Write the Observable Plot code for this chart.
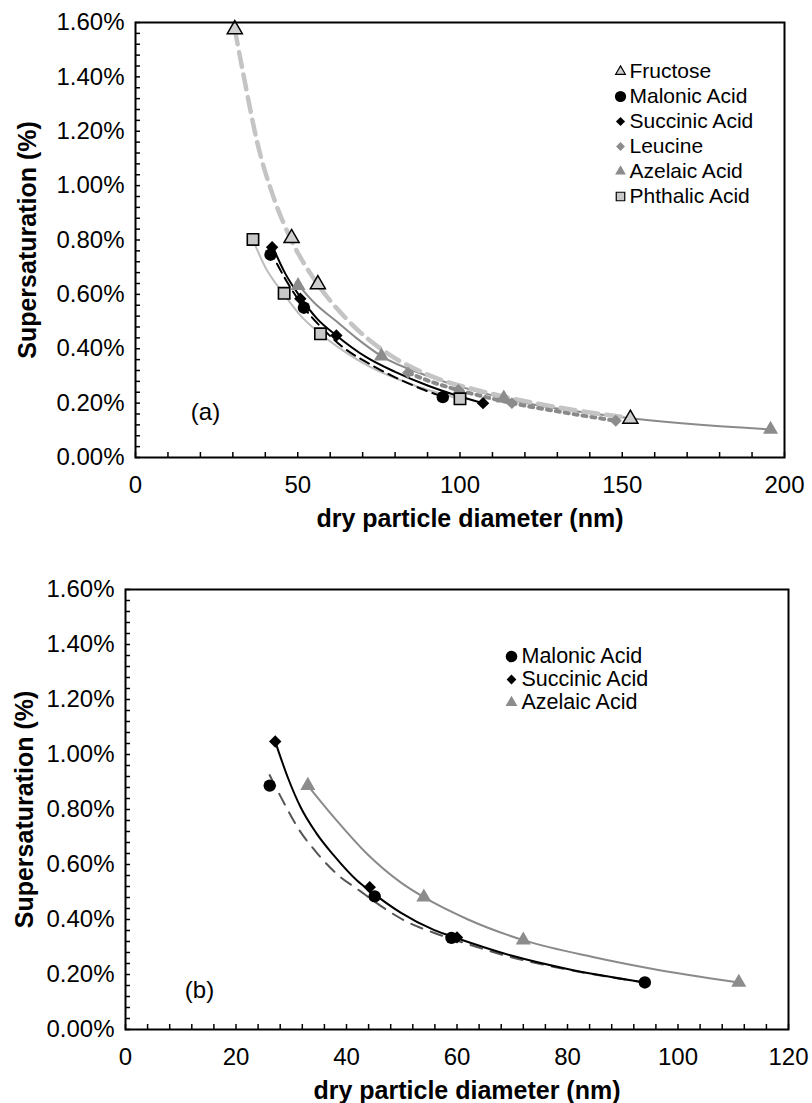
<!DOCTYPE html>
<html><head><meta charset="utf-8">
<script src="https://cdn.jsdelivr.net/npm/d3@7"></script>
<script src="https://cdn.jsdelivr.net/npm/@observablehq/plot@0.6"></script>
<style>
body{margin:0;background:#fff;font-family:"Liberation Sans",Arial,sans-serif;}
#charts svg{display:block;overflow:visible;}
</style></head><body><div id="charts"></div>
<script>
// ---------- Panel (a): measured points [dry diameter (nm), supersaturation (%)]
const fructoseA = [[30.6,1.575],[48.1,0.807],[56.2,0.637],[152.5,0.142]];
const malonicA  = [[41.6,0.746],[51.9,0.551],[94.7,0.222]];
const succinicA = [[42.1,0.773],[50.8,0.584],[61.9,0.449],[107.1,0.200]];
const leucineA  = [[84,0.312],[99.5,0.248],[116,0.200],[148,0.135]];
const azelaicA  = [[50.1,0.632],[75.8,0.373],[113.5,0.218],[195.7,0.103]];
const phthalicA = [[36.2,0.802],[45.8,0.604],[57.0,0.455],[100.0,0.216]];

// Panel (a): fitted curves
const fructoseFitA = [[30.6,1.575],[33.4,1.40],[37.5,1.16],[42.6,0.955],[48,0.80],[56,0.64],[65,0.51],[78,0.38],[90,0.305],[108,0.24],[130,0.185],[152.5,0.145]];
const malonicFitA  = [[41.3,0.765],[47,0.64],[52,0.55],[58,0.47],[64,0.405],[72,0.345],[80,0.295],[88,0.253],[95,0.222]];
const succinicFitA = [[42.1,0.78],[46,0.68],[50.8,0.59],[56,0.51],[61.9,0.449],[71,0.37],[80,0.315],[90,0.265],[98,0.232],[107.1,0.200]];
const leucineFitA  = [[84,0.312],[92,0.275],[99.5,0.248],[108,0.222],[116,0.200],[130,0.17],[148,0.135]];
const azelaicFitA  = [[49.5,0.645],[55,0.57],[62,0.50],[68,0.44],[75.8,0.373],[90,0.30],[113.5,0.218],[150,0.148],[196,0.103]];
const phthalicFitA = [[36.2,0.80],[40,0.70],[45.8,0.60],[51,0.52],[57,0.455],[65,0.385],[72,0.335],[86,0.265],[100,0.216]];

// ---------- Panel (b)
const malonicB  = [[26.1,0.887],[45.1,0.484],[59.0,0.333],[94.0,0.171]];
const succinicB = [[27.1,1.047],[44.2,0.517],[60.0,0.335]];
const azelaicB  = [[33.0,0.887],[54.0,0.481],[72.0,0.325],[111.0,0.171]];

const malonicFitB  = [[26.1,0.925],[29,0.812],[31.4,0.727],[34.4,0.648],[38,0.57],[42.5,0.503],[47.2,0.436],[51.1,0.39],[55.8,0.352],[62,0.31],[70,0.262],[80,0.218],[94,0.171]];
const succinicFitB = [[27.1,1.047],[29.5,0.91],[31.7,0.808],[34.5,0.715],[37.7,0.633],[41.9,0.542],[44.2,0.505],[49.8,0.425],[55.8,0.362],[60,0.332],[70,0.268],[80,0.22],[94,0.171]];
const azelaicFitB  = [[33,0.887],[37.7,0.772],[43.7,0.639],[49.8,0.535],[54,0.481],[62,0.40],[72,0.325],[85,0.262],[95,0.222],[111,0.171]];

// ---------- Legends & ticks
const legendA = ["Fructose","Malonic Acid","Succinic Acid","Leucine","Azelaic Acid","Phthalic Acid"];
const legendB = ["Malonic Acid","Succinic Acid","Azelaic Acid"];
const yTicks  = [0,0.2,0.4,0.6,0.8,1.0,1.2,1.4,1.6];
const xTicksA = [0,50,100,150,200];
const xTicksB = [0,20,40,60,80,100,120];
const yTitle = "Supersaturation (%)";
const xTitle = "dry particle diameter (nm)";

// ---------- Styles (kept apart from data)
const sym = {
  "Fructose":      {symbol:"triangle", r:5.6, fill:"#cfcfcf", stroke:"#000", strokeWidth:1.5},
  "Malonic Acid":  {symbol:"circle",   r:6.2, fill:"#000"},
  "Succinic Acid": {symbol:"diamond2", r:5.6, fill:"#000"},
  "Leucine":       {symbol:"diamond2", r:5.4, fill:"#8c8c8c"},
  "Azelaic Acid":  {symbol:"triangle", r:5.6, fill:"#8c8c8c"},
  "Phthalic Acid": {symbol:"square",   r:6.4, fill:"#c8c8c8", stroke:"#000", strokeWidth:1.6}
};
const legendRA = {"Fructose":3.6, "Malonic Acid":5.6, "Succinic Acid":4.1, "Leucine":4.0, "Azelaic Acid":4.0, "Phthalic Acid":4.8};
const legendRB = {"Malonic Acid":5.8, "Succinic Acid":4.4, "Azelaic Acid":4.4};
const pt = {x: d => d[0], y: d => d[1]};
const font = "'Liberation Sans', Arial, sans-serif";

function frameAxes(xTicks, xStep, xMax) {
  const xMinor = d3.range(0, xMax + 1e-9, xStep);
  const yMinor = d3.range(0, 1.6 + 1e-9, 0.04);
  return [
    Plot.axisX(xMinor, {tickSize: -5, tickFormat: () => "", strokeWidth: 1.5, label: null}),
    Plot.axisY(yMinor, {tickSize: -5, tickFormat: () => "", strokeWidth: 1.5, label: null}),
    Plot.axisX(xTicks, {tickSize: 0, tickPadding: 18, fontSize: 24, label: null}),
    Plot.axisY(yTicks, {tickSize: 0, tickPadding: 11, fontSize: 24, label: null, tickFormat: d => d.toFixed(2) + "%"}),
    Plot.frame({stroke: "#000", strokeWidth: 2})
  ];
}
function legendMarks(names, radii, dx, dy0, step, fs, textGap) {
  const out = [];
  names.forEach((n, i) => {
    const s = sym[n];
    out.push(Plot.dot([n], {frameAnchor: "top-left", dx, dy: dy0 + i*step, ...s, r: radii[n],
      strokeWidth: s.strokeWidth ? 1.2 : undefined}));
    out.push(Plot.text([n], {frameAnchor: "top-left", dx: dx + textGap, dy: dy0 + i*step,
      textAnchor: "start", lineAnchor: "middle", fontSize: fs, fill: "#000"}));
  });
  return out;
}
function dots(data, name) { return Plot.dot(data, {...pt, ...sym[name]}); }

const chartA = Plot.plot({
  width: 812, height: 560,
  marginLeft: 135, marginRight: 28, marginTop: 22, marginBottom: 103,
  style: {fontFamily: font, color: "#000", background: "#fff", overflow: "visible"},
  x: {domain: [0, 200], label: null},
  y: {domain: [0, 1.6], label: null},
  marks: [
    Plot.line(phthalicFitA, {...pt, stroke: "#bdbdbd", strokeWidth: 2, curve: "monotone-x"}),
    Plot.line(azelaicFitA, {...pt, stroke: "#8a8a8a", strokeWidth: 2, curve: "monotone-x"}),
    Plot.line(leucineFitA, {...pt, stroke: "#8a8a8a", strokeWidth: 4, strokeDasharray: "4,5", curve: "monotone-x"}),
    Plot.line(fructoseFitA, {...pt, stroke: "#c4c4c4", strokeWidth: 4.5, strokeDasharray: "15,8", curve: "monotone-x"}),
    Plot.line(malonicFitA, {...pt, stroke: "#000", strokeWidth: 2, strokeDasharray: "10,6", curve: "monotone-x"}),
    Plot.line(succinicFitA, {...pt, stroke: "#000", strokeWidth: 2, curve: "monotone-x"}),
    dots(leucineA, "Leucine"),
    dots(azelaicA, "Azelaic Acid"),
    dots(phthalicA, "Phthalic Acid"),
    dots(malonicA, "Malonic Acid"),
    dots(succinicA, "Succinic Acid"),
    dots(fructoseA, "Fructose"),
    ...frameAxes(xTicksA, 10, 200),
    Plot.text(["(a)"], {frameAnchor: "bottom-left", dx: 70, dy: -45, textAnchor: "middle", lineAnchor: "middle", fontSize: 24}),
    Plot.text([yTitle], {frameAnchor: "left", dx: -108, rotate: -90, textAnchor: "middle", lineAnchor: "middle", fontSize: 25, fontWeight: "bold"}),
    Plot.text([xTitle], {frameAnchor: "bottom", dx: 10, dy: 61, textAnchor: "middle", lineAnchor: "middle", fontSize: 25, fontWeight: "bold"}),
    ...legendMarks(legendA, legendRA, 485, 49, 25, 21, 9)
  ]
});

const chartB = Plot.plot({
  width: 812, height: 543,
  marginLeft: 125, marginRight: 24, marginTop: 29, marginBottom: 74,
  style: {fontFamily: font, color: "#000", background: "#fff", overflow: "visible"},
  x: {domain: [0, 120], label: null},
  y: {domain: [0, 1.6], label: null},
  marks: [
    Plot.line(azelaicFitB, {...pt, stroke: "#8a8a8a", strokeWidth: 2, curve: "monotone-x"}),
    Plot.line(malonicFitB, {...pt, stroke: "#555", strokeWidth: 2, strokeDasharray: "12,9", curve: "monotone-x"}),
    Plot.line(succinicFitB, {...pt, stroke: "#000", strokeWidth: 2, curve: "monotone-x"}),
    dots(azelaicB, "Azelaic Acid"),
    dots(malonicB, "Malonic Acid"),
    dots(succinicB, "Succinic Acid"),
    ...frameAxes(xTicksB, 4, 120),
    Plot.text(["(b)"], {frameAnchor: "bottom-left", dx: 74, dy: -39, textAnchor: "middle", lineAnchor: "middle", fontSize: 24}),
    Plot.text([yTitle], {frameAnchor: "left", dx: -101, rotate: -90, textAnchor: "middle", lineAnchor: "middle", fontSize: 25, fontWeight: "bold"}),
    Plot.text([xTitle], {frameAnchor: "bottom", dx: 10, dy: 61, textAnchor: "middle", lineAnchor: "middle", fontSize: 25, fontWeight: "bold"}),
    ...legendMarks(legendB, legendRB, 386, 67, 23, 21.5, 10)
  ]
});

const root = document.getElementById("charts");
root.appendChild(chartA);
root.appendChild(chartB);
</script></body></html>
